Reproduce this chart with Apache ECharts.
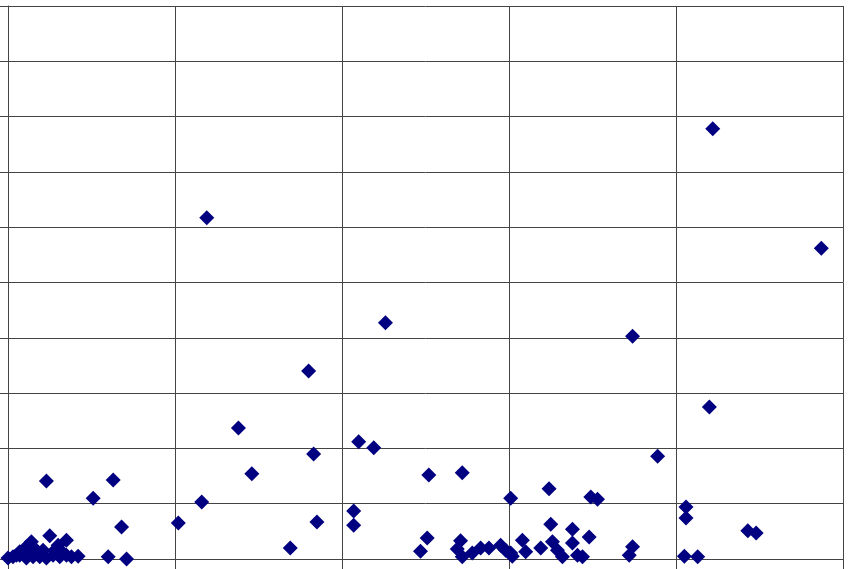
<!DOCTYPE html>
<html>
<head>
<meta charset="utf-8">
<script src="https://cdn.jsdelivr.net/npm/echarts@6/dist/echarts.min.js"></script>
<style>html,body{margin:0;padding:0;background:#fff}#c{width:850px;height:569px}</style>
</head>
<body>
<div id="c"></div>
<script>
// x values
var xValues = [
  4.22,1.19,4.87,2.26,3.74,1.80,4.20,1.38,2.10,2.19,1.83,3.89,1.46,2.52,2.72,0.23,0.63,0.51,3.01,3.24,3.49,3.53,1.16,4.06,4.06,4.43,4.48,1.02,0.68,1.85,2.07,2.07,1.69,2.47,2.51,0.60,0.71,4.05,4.13,3.72,3.74,
  2.71,2.69,2.72,2.78,2.83,2.88,2.95,2.98,3.01,3.02,3.08,3.10,3.19,3.25,3.26,3.29,3.32,3.38,3.38,3.41,3.44,3.48,
  0.00,0.03,0.07,0.11,0.15,0.19,0.23,0.27,0.31,0.35,0.38,0.42,0.25,0.35,0.14,0.11,0.30,0.21,0.07,0.17,0.28,0.32,0.05,0.13
];
// y values
var yValues = [
  7.78,6.17,5.62,4.27,4.03,3.40,2.75,2.37,2.12,2.01,1.90,1.86,1.54,1.52,1.56,1.41,1.43,1.10,1.10,1.27,1.12,1.08,1.03,0.94,0.74,0.51,0.47,0.65,0.58,0.67,0.87,0.61,0.20,0.14,0.38,0.04,0.00,0.05,0.04,0.07,0.22,
  0.33,0.18,0.04,0.11,0.20,0.20,0.25,0.16,0.11,0.05,0.34,0.13,0.20,0.63,0.31,0.16,0.04,0.54,0.29,0.07,0.04,0.40,
  0.02,0.04,0.07,0.02,0.04,0.04,0.02,0.07,0.04,0.07,0.04,0.05,0.42,0.34,0.31,0.22,0.25,0.16,0.13,0.16,0.16,0.14,0.07,0.11
];
var xTicks = [0,1,2,3,4,5];
var yTicks = [0,1,2,3,4,5,6,7,8,9,10];

var pts = xValues.map(function(x,i){return [x,yValues[i]];});
var lineCol = '#444';
var chart = echarts.init(document.getElementById('c'), null, {renderer:'canvas'});
chart.setOption({
  animation:false,
  backgroundColor:'#fff',
  grid:{left:8,right:7,top:6,bottom:10,containLabel:false},
  xAxis:{type:'value',min:xTicks[0],max:xTicks[xTicks.length-1],interval:1,
    axisLine:{show:true,lineStyle:{color:lineCol,width:1}},
    axisTick:{show:true,length:10,lineStyle:{color:lineCol}},
    axisLabel:{show:false},
    splitLine:{show:true,showMinLine:true,showMaxLine:true,lineStyle:{color:lineCol,width:1}}},
  yAxis:{type:'value',min:yTicks[0],max:yTicks[yTicks.length-1],interval:1,
    axisLine:{show:true,lineStyle:{color:lineCol,width:1}},
    axisTick:{show:true,length:8,lineStyle:{color:lineCol}},
    axisLabel:{show:false},
    splitLine:{show:true,showMinLine:true,showMaxLine:true,lineStyle:{color:lineCol,width:1}}},
  series:[{type:'scatter',data:pts,symbol:'diamond',symbolSize:15,
    itemStyle:{color:'#000080',opacity:1}}]
});
</script>
</body>
</html>
